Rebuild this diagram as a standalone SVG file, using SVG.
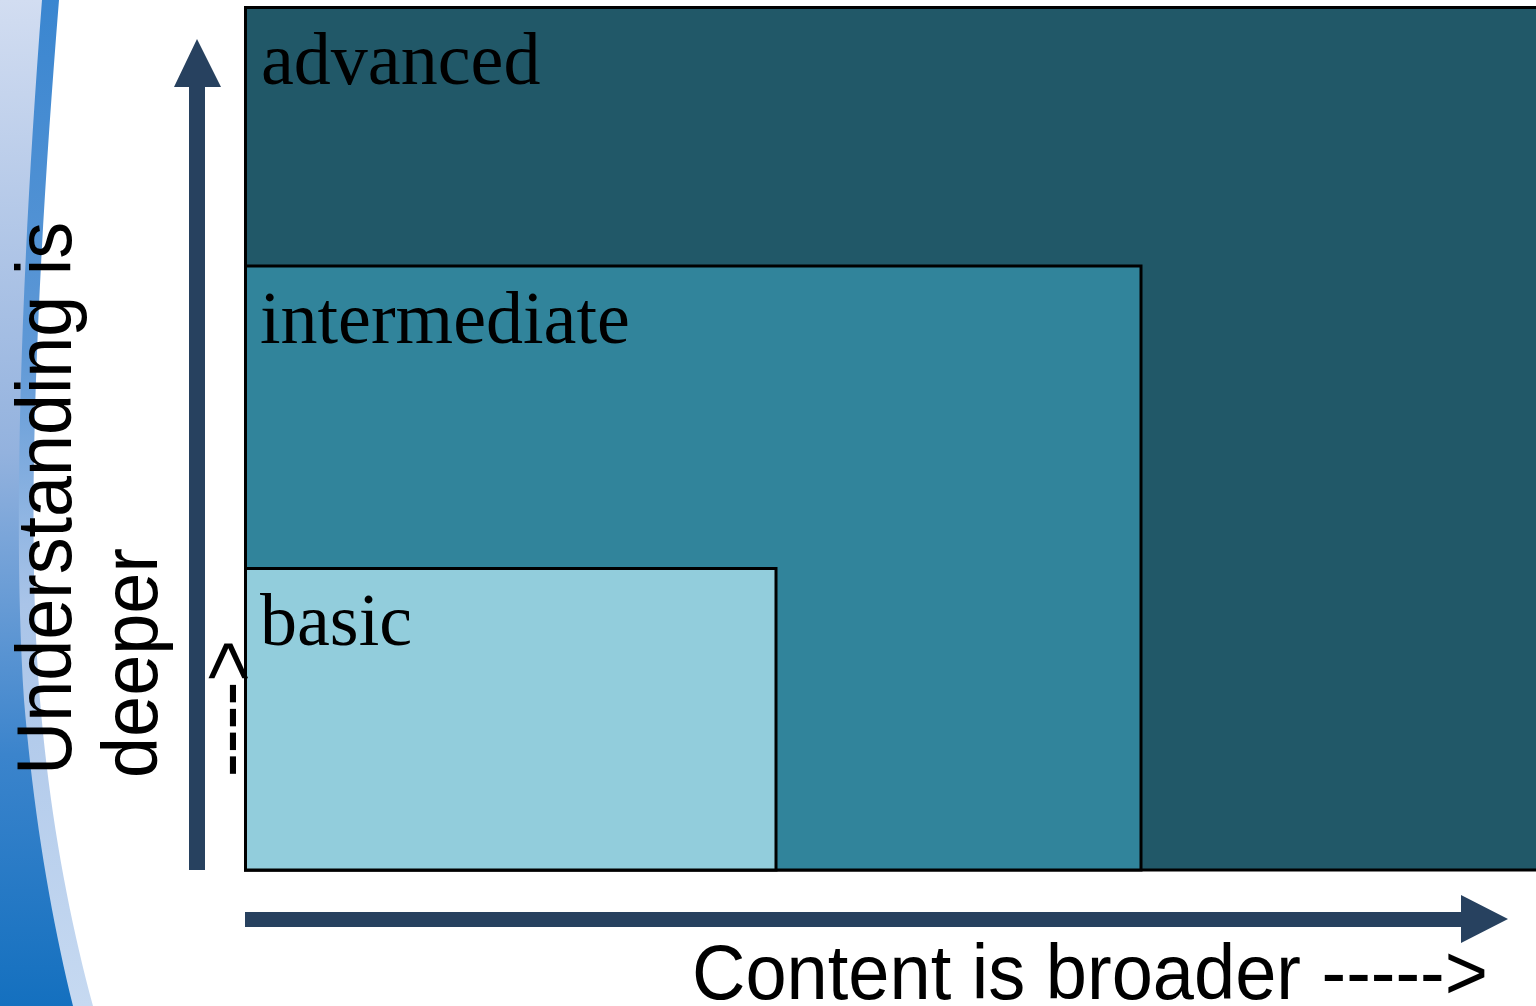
<svg xmlns="http://www.w3.org/2000/svg" width="1536" height="1006" viewBox="0 0 1536 1006">
<defs>
<linearGradient id="bgFill" x1="0" y1="0" x2="0" y2="1">
<stop offset="0" stop-color="#d2ddf1"/>
<stop offset="0.45" stop-color="#93b2de"/>
<stop offset="0.75" stop-color="#3b84cc"/>
<stop offset="1" stop-color="#1470bf"/>
</linearGradient>
<linearGradient id="stripe" x1="0" y1="0" x2="0" y2="1">
<stop offset="0" stop-color="#3a86d0"/>
<stop offset="0.35" stop-color="#5e98d6"/>
<stop offset="0.6" stop-color="#a9c4e8"/>
<stop offset="1" stop-color="#c6d9f1"/>
</linearGradient>
<style>
.box{stroke:#000;stroke-width:3}
.lbl{font-family:"Liberation Serif","Times New Roman",serif;font-size:74px;fill:#000}
.ax{font-family:"Liberation Sans",Arial,sans-serif;font-size:77px;fill:#000}
.arrow{fill:#27415f}
</style>
</defs>
<rect x="0" y="0" width="1536" height="1006" fill="#fff"/>
<g id="decoration">
<path d="M0,0 L59,0 C38,260 25,520 40,700 C50,820 70,920 93,1006 L0,1006 Z" fill="url(#stripe)"/>
<path d="M0,0 L42,0 C22,260 12,520 24,700 C34,820 52,920 73,1006 L0,1006 Z" fill="url(#bgFill)"/>
</g>
<g id="advanced">
<rect class="box" x="245.5" y="7.5" width="1300" height="862.5" fill="#215868"/>
<text class="lbl" x="261" y="84">advanced</text>
</g>
<g id="intermediate">
<rect class="box" x="245.5" y="266" width="895.5" height="604" fill="#31849b"/>
<text class="lbl" x="260" y="343">intermediate</text>
</g>
<g id="basic">
<rect class="box" x="245.5" y="568.5" width="530.5" height="301.5" fill="#92cddc"/>
<text class="lbl" x="260" y="645">basic</text>
</g>
<g id="connectors">
<path class="arrow" d="M189,870 L189,87 L174,87 L197,39 L221,87 L205,87 L205,870 Z"/>
<path class="arrow" d="M245,912 L1461,912 L1461,895 L1508,919 L1461,943 L1461,927 L245,927 Z"/>
</g>
<g id="y-label">
<text class="ax" transform="rotate(-90)" x="-775" y="71" textLength="553" lengthAdjust="spacingAndGlyphs">Understanding is</text>
<text class="ax" transform="rotate(-90)" x="-778" y="157" textLength="230" lengthAdjust="spacingAndGlyphs">deeper</text>
<text class="ax" transform="rotate(-90)" x="-777" y="254" textLength="137" lengthAdjust="spacingAndGlyphs">----&gt;</text>
</g>
<g id="x-label">
<text class="ax" x="692" y="999" font-size="76" textLength="796" lengthAdjust="spacingAndGlyphs">Content is broader -----&gt;</text>
</g>
</svg>
